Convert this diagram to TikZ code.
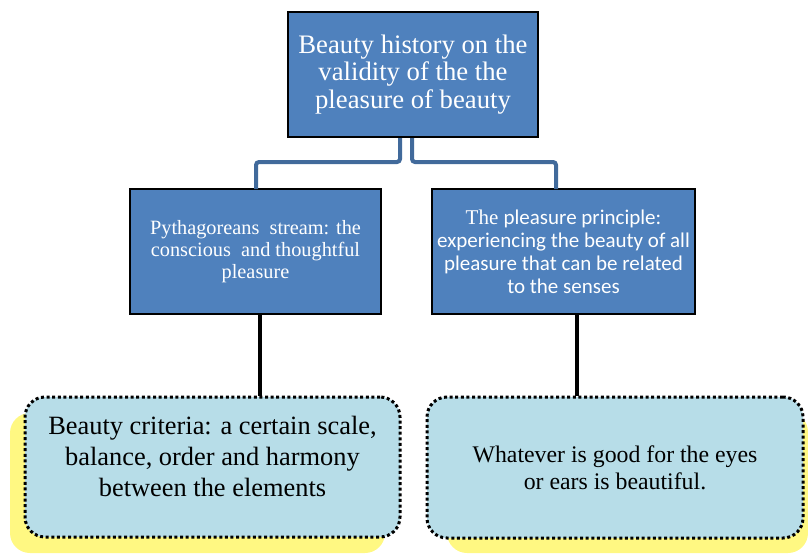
\documentclass[tikz,border=0pt]{standalone}
\usepackage{fontspec}
\setmainfont{Liberation Serif}
\newfontfamily\calib{Carlito}
\definecolor{boxblue}{RGB}{79,129,189}
\definecolor{connblue}{RGB}{65,106,155}
\definecolor{lightcyan}{RGB}{183,221,232}
\definecolor{shadowyellow}{RGB}{255,248,130}
\begin{document}
\begin{tikzpicture}[x=1pt,y=-1pt,
  bluebox/.style={draw=black,line width=1.8pt,fill=boxblue,text=white,align=center,inner sep=2pt},
  bottombox/.style={draw=black,line width=3pt,dash pattern=on 3pt off 2.6pt,fill=lightcyan,rounded corners=20pt,align=center,text=black},
  conn/.style={draw=connblue,line width=4pt,rounded corners=3pt},
  stem/.style={draw=black,line width=4pt},
  shade/.style={fill=shadowyellow,rounded corners=20pt}]
\useasboundingbox (0,0) rectangle (808,554);
% shadows
\fill[shade] (10,413) rectangle (385,553);
\fill[shade] (447,412) rectangle (808,553);
% nodes
\node[bluebox,minimum width=250pt,minimum height=125pt,font=\fontsize{26.7}{27.5}\selectfont] (top) at (413,74.5) {Beauty history on the\\validity of the the\\pleasure of beauty};
\node[bluebox,minimum width=251pt,minimum height=125pt,font=\fontsize{20.3}{22}\selectfont] (left) at (255.5,251.5) {Pythagoreans\ \ stream: the\\conscious\ \ and thoughtful\\pleasure};
\node[bluebox,minimum width=263pt,minimum height=125pt,font=\fontsize{21}{23}\selectfont] (right) at (563.5,251.5) {The {\calib pleasure principle:}\\{\calib experiencing the beauty of all}\\{\calib pleasure that can be related}\\{\calib to the senses}};
\node[bottombox,minimum width=375pt,minimum height=140pt,text depth=22pt,font=\fontsize{26.4}{31}\selectfont] (bl) at (212.5,467) {Beauty criteria: a certain scale,\\balance, order and harmony\\between the elements};
\node[bottombox,minimum width=376pt,minimum height=141pt,font=\fontsize{23.8}{27}\selectfont] (br) at (615,467.5) {Whatever is good for the eyes\\or ears is beautiful.};
% coordinates
\coordinate (tl) at (400,138);
\coordinate (tr) at (412,138);
\coordinate (ml) at (256,189);
\coordinate (mr) at (556,189);
\coordinate (sl1) at (260,314);
\coordinate (sl2) at (260,396);
\coordinate (sr1) at (577,314);
\coordinate (sr2) at (577,396);
% connectors
\draw[conn] (tl) -- (tl |- 0,162) -- (ml |- 0,162) -- (ml);
\draw[conn] (tr) -- (tr |- 0,162) -- (mr |- 0,162) -- (mr);
\draw[stem] (sl1) -- (sl2);
\draw[stem] (sr1) -- (sr2);
\end{tikzpicture}
\end{document}
